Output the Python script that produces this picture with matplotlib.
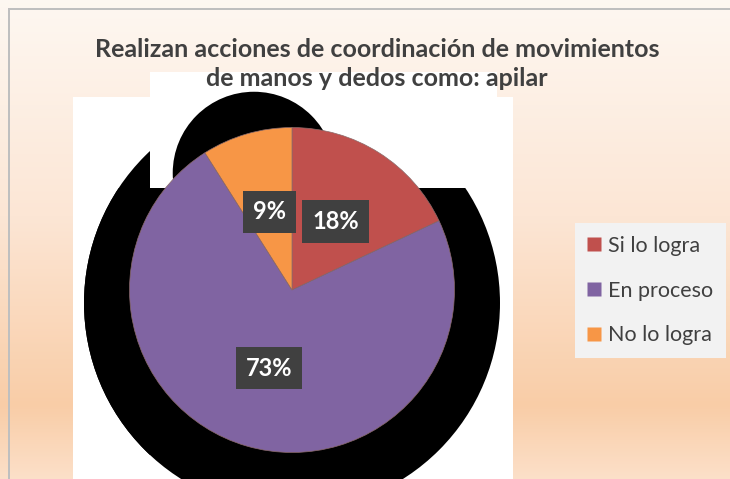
import numpy as np
import matplotlib.pyplot as plt
from matplotlib.patches import Rectangle, Circle
from matplotlib.lines import Line2D
from matplotlib.colors import to_rgb

categories = ["Si lo logra", "En proceso", "No lo logra"]
values = [18, 73, 9]
colors = ["#C0504D", "#8064A2", "#F79646"]
title = "Realizan acciones de coordinación de movimientos\nde manos y dedos como: apilar"

W, H = 730, 479
fig = plt.figure(figsize=(W / 100, H / 100), dpi=100, facecolor="#FCE6D5")

# ---- background (gradient) ----
bg = fig.add_axes([0, 0, 1, 1])
bg.set_axis_off()
stops = [(0.0, "#FEF8F2"), (0.45, "#FCE6D5"), (0.84, "#F9CDA7"), (1.0, "#FCE1CB")]
ys = np.linspace(0, 1, H)
pos = [s[0] for s in stops]
cols = np.array([to_rgb(s[1]) for s in stops])
grad = np.stack([np.interp(ys, pos, cols[:, k]) for k in range(3)], axis=1)
img = np.repeat(grad[:, None, :], 16, axis=1)
bg.imshow(img, extent=[-20, W + 20, H + 5, -5], aspect="auto", interpolation="nearest", zorder=0)
bg.set_xlim(0, W)
bg.set_ylim(H, 0)
bg.add_patch(Rectangle((8, 8), W, 2, facecolor="#BFBFBF", edgecolor="none", zorder=1))
bg.add_patch(Rectangle((8, 8), 2, H, facecolor="#BFBFBF", edgecolor="none", zorder=1))
# white plot area
bg.add_patch(Rectangle((73, 97), 440, H - 97 + 5, facecolor="white", edgecolor="none", zorder=2))
bg.add_patch(Rectangle((150, 72), 347, 26, facecolor="white", edgecolor="none", zorder=2))

# ---- title ----
fig.text(377 / W, 1 - 64 / H, title, ha="center", va="center", fontsize=18,
         fontweight="bold", color="#404040", family="Lato", linespacing=1.3)

# ---- pie ----
R = 162.5
cx, cy = 292, 290
half = 1.6 * R
ax = fig.add_axes([(cx - half) / W, (H - cy - half) / H, 2 * half / W, 2 * half / H])
ax.set_axis_off()
ax.patch.set_alpha(0)

wedges, texts, autotexts = ax.pie(
    values, colors=colors, startangle=90, counterclock=False, radius=1,
    autopct="%1.0f%%", pctdistance=0.5,
    wedgeprops=dict(linewidth=0.5, edgecolor="#8a6a6a"),
    textprops=dict(color="white", fontsize=17, fontweight="bold", family="Lato"))
for w in wedges:
    w.set_zorder(2)
for t in autotexts:
    t.set_zorder(3)
    t.set_bbox(dict(boxstyle="square,pad=0.42", facecolor="#404040", edgecolor="none"))
ax.set_xlim(-1.6, 1.6)
ax.set_ylim(-1.6, 1.6)

# black shadow artifact
c1 = dict(xy=(0.0, -0.08), radius=1.28)
p1 = Circle(**c1, facecolor="black", edgecolor="none", zorder=1)
ax.add_patch(p1)
p1.set_clip_path(Rectangle((-2, -2), 4, 2.63, transform=ax.transData))
p2 = Circle(**c1, facecolor="black", edgecolor="none", zorder=1)
ax.add_patch(p2)
p2.set_clip_path(Rectangle((-2, -2), 2 - 0.875, 4, transform=ax.transData))
ax.add_patch(Circle((-0.234, 0.72), 0.5, facecolor="black", edgecolor="none", zorder=1))

# ---- legend ----
handles = [Line2D([], [], marker="s", linestyle="none", markersize=10,
                  markerfacecolor=c, markeredgecolor="none") for c in colors]
leg = fig.legend(handles, categories, loc="upper left",
                 bbox_to_anchor=(575 / W, 1 - 223 / H),
                 frameon=True, fancybox=False, framealpha=1,
                 facecolor="#F2F2F2", edgecolor="none",
                 prop=dict(family="Lato", size=15.5), labelcolor="#404040",
                 handlelength=0.6, handletextpad=0.35, labelspacing=1.15,
                 borderpad=0.6, borderaxespad=0)

fig.savefig("out.png", dpi=100, facecolor=fig.get_facecolor())
